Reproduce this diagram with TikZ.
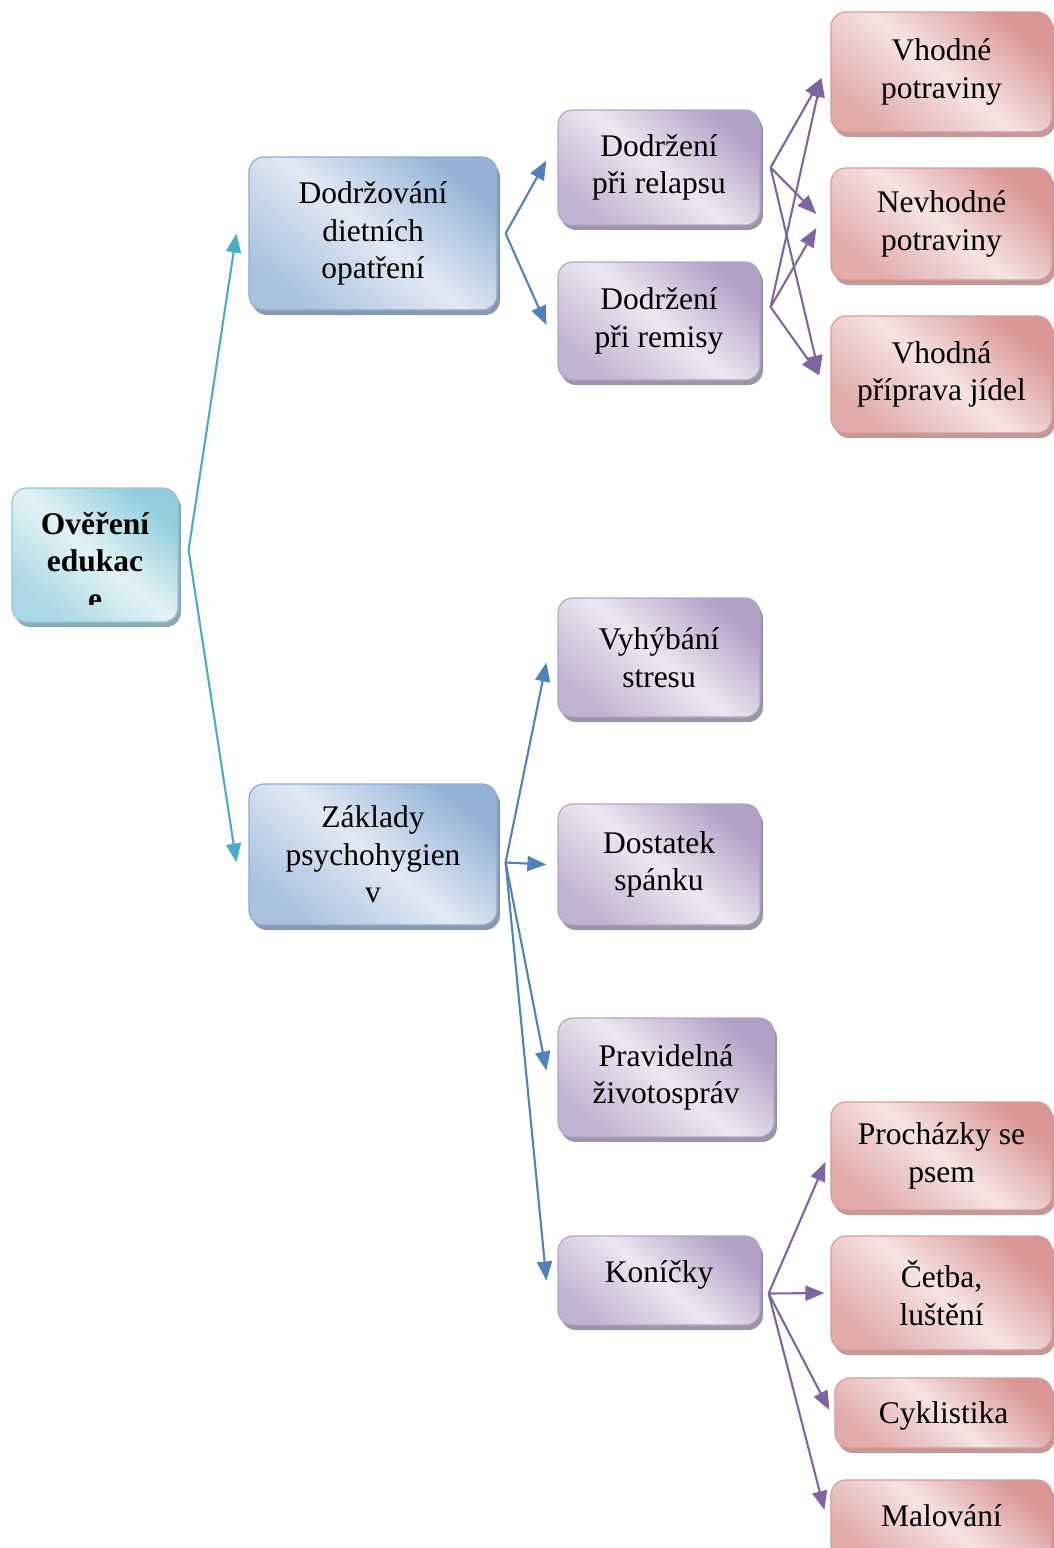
\documentclass[tikz,border=0pt]{standalone}
\usepackage{fontspec}
\setmainfont{Liberation Serif}
\usetikzlibrary{arrows.meta,shadows,calc}
\definecolor{tealL}{HTML}{E3F2F6}
\definecolor{tealD}{HTML}{93CDDD}
\definecolor{tealB}{HTML}{8CCADA}
\definecolor{tealS}{HTML}{8FA9B1}
\definecolor{blueL}{HTML}{E1E9F4}
\definecolor{blueD}{HTML}{95B3D7}
\definecolor{blueB}{HTML}{8EAAD2}
\definecolor{blueS}{HTML}{8A98AE}
\definecolor{purL}{HTML}{ECE7F1}
\definecolor{purD}{HTML}{B2A1C7}
\definecolor{purB}{HTML}{B3A4C9}
\definecolor{purS}{HTML}{9D95A6}
\definecolor{redL}{HTML}{F6E3E3}
\definecolor{redD}{HTML}{D99694}
\definecolor{redB}{HTML}{DA9A98}
\definecolor{redS}{HTML}{BE9A99}
\definecolor{tealA}{HTML}{4BACC6}
\definecolor{blueA}{HTML}{4F81BD}
\definecolor{purA}{HTML}{8064A2}
\newcommand\dfont{\fontsize{31.5pt}{37.5pt}\selectfont}
\tikzset{
  basebox/.style={rectangle, rounded corners=15pt, line width=1.2pt, inner sep=0pt, align=center, font=\dfont},
  tealbox/.style={basebox, draw=tealB, top color=tealD, bottom color=tealD!80!white, middle color=tealL, shading angle=-40,
     drop shadow={shadow xshift=3pt, shadow yshift=-5pt, fill=tealS, opacity=1}},
  bluebox/.style={basebox, draw=blueB, top color=blueD, bottom color=blueD!80!white, middle color=blueL, shading angle=-40,
     drop shadow={shadow xshift=3pt, shadow yshift=-5pt, fill=blueS, opacity=1}},
  purbox/.style={basebox, draw=purB, top color=purD, bottom color=purD!80!white, middle color=purL, shading angle=-40,
     drop shadow={shadow xshift=3pt, shadow yshift=-5pt, fill=purS, opacity=1}},
  redbox/.style={basebox, draw=redB, top color=redD, bottom color=redD!80!white, middle color=redL, shading angle=-40,
     drop shadow={shadow xshift=3pt, shadow yshift=-5pt, fill=redS, opacity=1}},
  arr/.style={line width=2.1pt, -{Triangle[length=19pt,width=15pt]}},
  tealarr/.style={arr, draw=tealA, fill=tealA},
  bluearr/.style={arr, draw=blueA, fill=blueA},
  purarr/.style={arr, draw=purA, fill=purA},
}
\begin{document}
\begin{tikzpicture}[x=1pt, y=-1pt]
\useasboundingbox (0,0) rectangle (1054,1548);
\clip (0,0) rectangle (1054,1548);
% root
\node[tealbox, minimum width=166pt, minimum height=134pt] (root) at (95,555) {};
\begin{scope}
  \clip (12,488) rectangle (178,604);
  \node[align=center, inner sep=0pt, font=\dfont\bfseries] (roottext) at (95,561) {Ověření\\edukac\\e};
\end{scope}
% level 1
\node[bluebox, minimum width=248pt, minimum height=153pt] (diet) at (373,233.5) {Dodržování\\dietních\\opatření};
\node[bluebox, minimum width=248pt, minimum height=141pt] (zp) at (373,854.5) {Základy\\psychohygien\\v};
% level 2
\node[purbox, minimum width=202pt, minimum height=115pt] (rel) at (659,167.5) {Dodržení\\při relapsu};
\node[purbox, minimum width=202pt, minimum height=118pt] (rem) at (659,321) {Dodržení\\při remisy};
\node[purbox, minimum width=202pt, minimum height=119pt] (vs) at (659,657.5) {Vyhýbání\\stresu};
\node[purbox, minimum width=202pt, minimum height=121pt] (ds) at (659,864.5) {Dostatek\\spánku};
\node[purbox, minimum width=216pt, minimum height=119pt] (pz) at (666,1077.5) {Pravidelná\\životospráv};
\node[purbox, minimum width=202pt, minimum height=89pt, text height=22pt, text depth=19pt] (ko) at (659,1280.5) {Koníčky};
% level 3
\node[redbox, minimum width=221pt, minimum height=120pt] (vp) at (941.5,72) {Vhodné\\potraviny};
\node[redbox, minimum width=221pt, minimum height=112pt] (np) at (941.5,224) {Nevhodné\\potraviny};
\node[redbox, minimum width=221pt, minimum height=117pt] (pj) at (941.5,374.5) {Vhodná\\příprava jídel};
\node[redbox, minimum width=221pt, minimum height=108pt] (ps) at (941.5,1156) {Procházky se\\psem};
\node[redbox, minimum width=221pt, minimum height=114pt] (cl) at (941.5,1293) {Četba,\\luštění};
\node[redbox, minimum width=217pt, minimum height=70pt, text height=27.5pt, text depth=6.8pt] (cyk) at (943.5,1413) {Cyklistika};
\node[redbox, minimum width=221pt, minimum height=80pt, text height=21.5pt, text depth=8pt] (ma) at (941.5,1520) {Malování};
% fork points
\coordinate (r0) at ($(root.east)+(10,-5)$);
\coordinate (d0) at ($(diet.east)+(8,0)$);
\coordinate (z0) at ($(zp.east)+(8,8)$);
\coordinate (rl0) at ($(rel.east)+(10,0)$);
\coordinate (rm0) at ($(rem.east)+(10,-14)$);
\coordinate (k0) at ($(ko.east)+(8,13)$);
% connectors
\draw[tealarr] (r0) -- ($(diet.west)+(-12,0)$);
\draw[tealarr] (r0) -- ($(zp.west)+(-12,8)$);
\draw[bluearr] (d0) -- ($(rel.west)+(-11,-7)$);
\draw[bluearr] (d0) -- ($(rem.west)+(-11,4)$);
\draw[purarr] (rl0) -- ($(vp.west)+(-9,6)$);
\draw[purarr] (rl0) -- ($(np.west)+(-14,-10)$);
\draw[purarr] (rl0) -- ($(pj.west)+(-11,0)$);
\draw[purarr] (rm0) -- ($(vp.west)+(-9,6)$);
\draw[purarr] (rm0) -- ($(np.west)+(-14,4)$);
\draw[purarr] (rm0) -- ($(pj.west)+(-11,1)$);
\draw[bluearr] (z0) -- ($(vs.west)+(-11,5)$);
\draw[bluearr] (z0) -- ($(ds.west)+(-11,0)$);
\draw[bluearr] (z0) -- ($(pz.west)+(-11,-7)$);
\draw[bluearr] (z0) -- ($(ko.west)+(-11,0)$);
\draw[purarr] (k0) -- ($(ps.west)+(-5,6)$);
\draw[purarr] (k0) -- ($(cl.west)+(-6,0)$);
\draw[purarr] (k0) -- ($(cyk.west)+(-5,-3)$);
\draw[purarr] (k0) -- ($(ma.west)+(-6,-10)$);
\end{tikzpicture}
\end{document}
